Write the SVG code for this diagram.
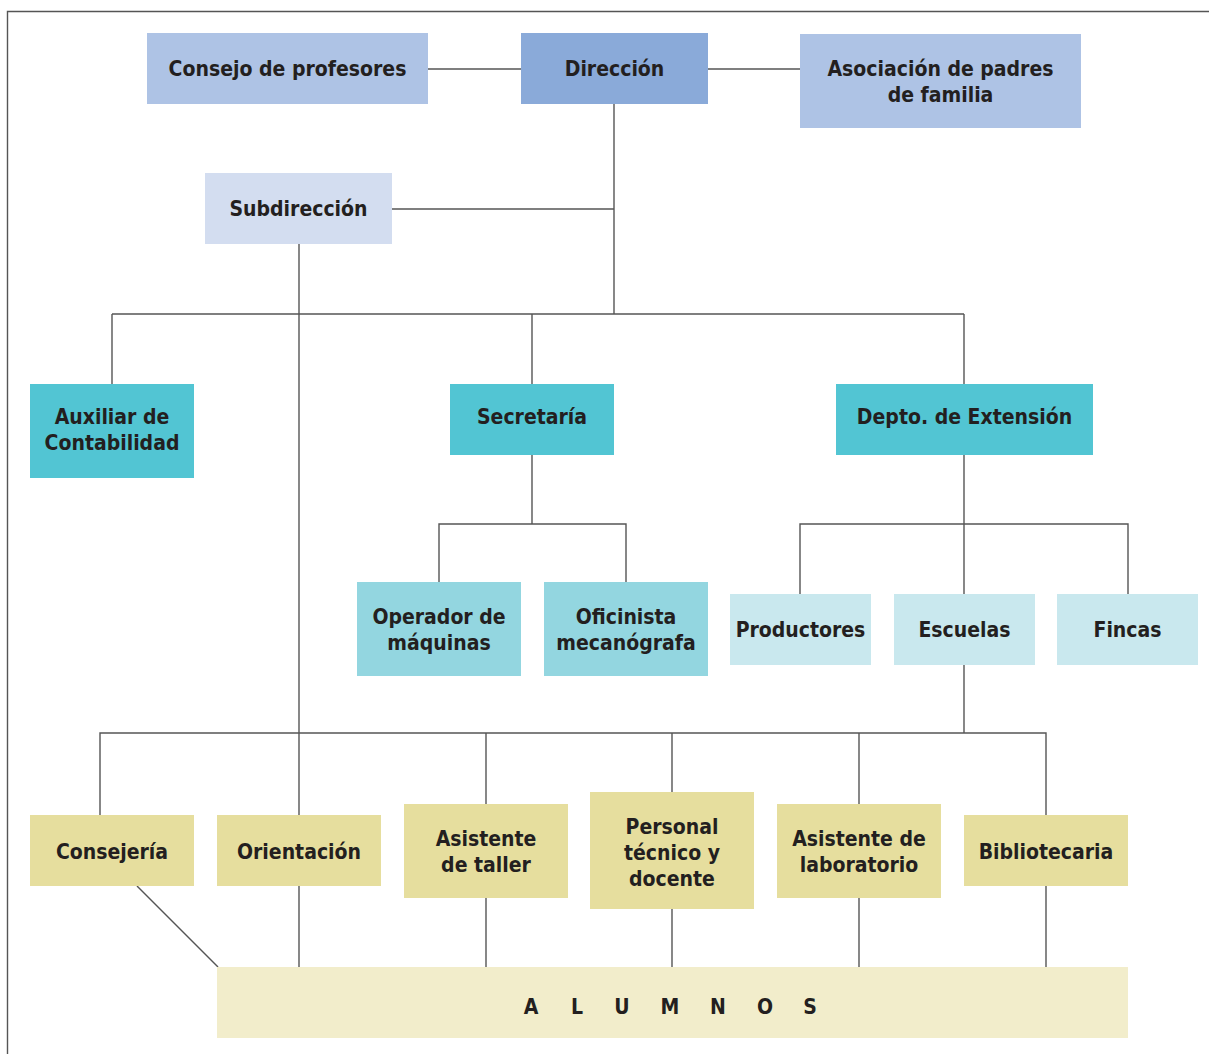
<svg xmlns="http://www.w3.org/2000/svg" width="1209" height="1054" viewBox="0 0 1209 1054">
<style>
text{font-family:"DejaVu Sans Condensed","DejaVu Sans","Liberation Sans",sans-serif;font-weight:bold;font-size:21px;fill:#231f20;text-anchor:middle;dominant-baseline:central}
.c line,.c polyline{stroke:#555;stroke-width:1.4;fill:none}
.frame{stroke:#555;stroke-width:1.4;fill:none}
.b1{fill:#aec3e5}.b0{fill:#8aaad9}.b2{fill:#d3ddf0}
.t1{fill:#52c5d3}.t2{fill:#93d6e0}.t3{fill:#c9e8ee}
.y1{fill:#e6de9e}.y2{fill:#f2edcb}
</style>
<rect width="1209" height="1054" fill="#fff"/>
<polyline class="frame" points="7.5,1054 7.5,11.5 1209,11.5"/>
<g class="c" id="connectors">
<line x1="428" y1="69" x2="521" y2="69"/>
<line x1="708" y1="69" x2="800" y2="69"/>
<line x1="614" y1="104" x2="614" y2="314"/>
<line x1="392" y1="209" x2="614" y2="209"/>
<line x1="112" y1="314" x2="964" y2="314"/>
<line x1="112" y1="314" x2="112" y2="384"/>
<line x1="532" y1="314" x2="532" y2="384"/>
<line x1="964" y1="314" x2="964" y2="384"/>
<line x1="299" y1="244" x2="299" y2="815"/>
<line x1="532" y1="455" x2="532" y2="524"/>
<polyline points="439,582 439,524 626,524 626,582"/>
<line x1="964" y1="455" x2="964" y2="594"/>
<polyline points="800,594 800,524 1128,524 1128,594"/>
<line x1="964" y1="665" x2="964" y2="733"/>
<polyline points="100,815 100,733 1046,733 1046,815"/>
<line x1="486" y1="733" x2="486" y2="804"/>
<line x1="672" y1="733" x2="672" y2="792"/>
<line x1="859" y1="733" x2="859" y2="804"/>
<line x1="137" y1="886" x2="218" y2="967"/>
<line x1="299" y1="886" x2="299" y2="967"/>
<line x1="486" y1="898" x2="486" y2="967"/>
<line x1="672" y1="909" x2="672" y2="967"/>
<line x1="859" y1="898" x2="859" y2="967"/>
<line x1="1046" y1="886" x2="1046" y2="967"/>
</g>
<g id="consejo"><rect class="b1" x="147" y="33" width="281" height="71"/><text x="287.5" y="69">Consejo de profesores</text></g>
<g id="direccion"><rect class="b0" x="521" y="33" width="187" height="71"/><text x="614.5" y="69">Dirección</text></g>
<g id="asociacion"><rect class="b1" x="800" y="34" width="281" height="94"/><text x="940.5" y="69">Asociación de padres</text><text x="940.5" y="95">de familia</text></g>
<g id="subdireccion"><rect class="b2" x="205" y="173" width="187" height="71"/><text x="298.5" y="209">Subdirección</text></g>
<g id="auxiliar"><rect class="t1" x="30" y="384" width="164" height="94"/><text x="112" y="417">Auxiliar de</text><text x="112" y="443">Contabilidad</text></g>
<g id="secretaria"><rect class="t1" x="450" y="384" width="164" height="71"/><text x="532" y="417">Secretaría</text></g>
<g id="depto"><rect class="t1" x="836" y="384" width="257" height="71"/><text x="964.5" y="417">Depto. de Extensión</text></g>
<g id="operador"><rect class="t2" x="357" y="582" width="164" height="94"/><text x="439" y="617">Operador de</text><text x="439" y="643">máquinas</text></g>
<g id="oficinista"><rect class="t2" x="544" y="582" width="164" height="94"/><text x="626" y="617">Oficinista</text><text x="626" y="643">mecanógrafa</text></g>
<g id="productores"><rect class="t3" x="730" y="594" width="141" height="71"/><text x="800.5" y="630">Productores</text></g>
<g id="escuelas"><rect class="t3" x="894" y="594" width="141" height="71"/><text x="964.5" y="630">Escuelas</text></g>
<g id="fincas"><rect class="t3" x="1057" y="594" width="141" height="71"/><text x="1127.5" y="630">Fincas</text></g>
<g id="consejeria"><rect class="y1" x="30" y="815" width="164" height="71"/><text x="112" y="852">Consejería</text></g>
<g id="orientacion"><rect class="y1" x="217" y="815" width="164" height="71"/><text x="299" y="852">Orientación</text></g>
<g id="asistente-taller"><rect class="y1" x="404" y="804" width="164" height="94"/><text x="486" y="839">Asistente</text><text x="486" y="865">de taller</text></g>
<g id="personal"><rect class="y1" x="590" y="792" width="164" height="117"/><text x="672" y="827">Personal</text><text x="672" y="853">técnico y</text><text x="672" y="879">docente</text></g>
<g id="asistente-lab"><rect class="y1" x="777" y="804" width="164" height="94"/><text x="859" y="839">Asistente de</text><text x="859" y="865">laboratorio</text></g>
<g id="bibliotecaria"><rect class="y1" x="964" y="815" width="164" height="71"/><text x="1046" y="852">Bibliotecaria</text></g>
<g id="alumnos"><rect class="y2" x="217" y="967" width="911" height="71"/><text x="531 577 622 670 718 765 810" y="1007">ALUMNOS</text></g>
</svg>
